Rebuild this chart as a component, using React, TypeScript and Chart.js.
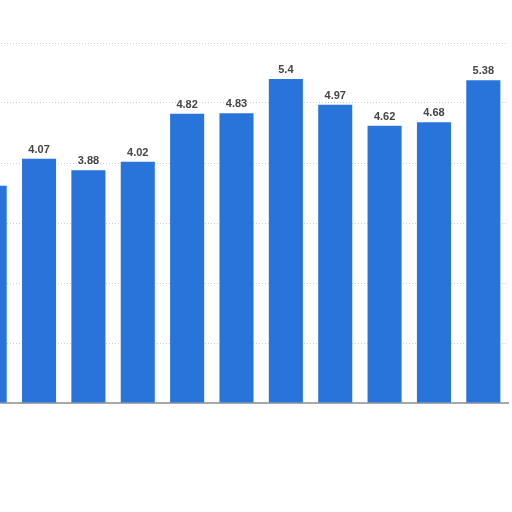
import React, { useEffect, useRef } from 'react'
import Chart, { ChartConfiguration, Plugin } from 'chart.js/auto'

// x labels are hidden in the picture; years are placeholders
const categories = ['2012', '2013', '2014', '2015', '2016', '2017', '2018', '2019', '2020', '2021', '2022']
const values = [3.62, 4.07, 3.88, 4.02, 4.82, 4.83, 5.4, 4.97, 4.62, 4.68, 5.38]
const yTicks = [0, 1, 2, 3, 4, 5, 6]

const valueLabels: Plugin<'bar'> = {
  id: 'valueLabels',
  afterDatasetsDraw(chart) {
    const ctx = chart.ctx
    const meta = chart.getDatasetMeta(0)
    ctx.save()
    ctx.font = 'bold 11px "Liberation Sans", Arial, sans-serif'
    ctx.fillStyle = '#444444'
    ctx.textAlign = 'center'
    ctx.textBaseline = 'alphabetic'
    meta.data.forEach((bar, i) => {
      ctx.fillText(String(values[i]), bar.x, bar.y - 6)
    })
    ctx.restore()
  }
}

const BarChart: React.FC = () => {
  const chartRef = useRef<HTMLCanvasElement | null>(null)

  useEffect(() => {
    if (!chartRef.current) return

    const config: ChartConfiguration<'bar'> = {
      type: 'bar',
      data: {
        labels: categories,
        datasets: [
          {
            data: values,
            backgroundColor: '#2874DA',
            borderWidth: 0,
            categoryPercentage: 1,
            barPercentage: 0.69
          }
        ]
      },
      options: {
        responsive: false,
        animation: false,
        layout: { padding: { left: 0, right: 4, top: 43, bottom: 109 } },
        plugins: {
          legend: { display: false },
          tooltip: { enabled: false }
        },
        scales: {
          x: {
            ticks: { display: false },
            grid: { display: false, drawTicks: false },
            border: { display: true, color: '#a8a8a8', width: 2 },
            afterFit: (s) => {
              s.height = 0
            }
          },
          y: {
            min: 0,
            max: 6,
            afterBuildTicks: (s) => {
              s.ticks = yTicks.map((v) => ({ value: v }))
            },
            ticks: { display: false },
            grid: { color: '#cfcfcf', drawTicks: false, lineWidth: 1 },
            border: { display: false, dash: [1, 2] },
            afterFit: (s) => {
              s.width = 0
            }
          }
        }
      },
      plugins: [valueLabels]
    }

    const chart = new Chart(chartRef.current, config)
    return () => {
      chart.destroy()
    }
  }, [])

  return (
    <div style={{ position: 'absolute', left: -35, top: 0, width: 547, height: 512, background: '#ffffff' }}>
      <canvas ref={chartRef} width={547} height={512} style={{ width: 547, height: 512 }} />
    </div>
  )
}

export default function App() {
  return <BarChart />
}
